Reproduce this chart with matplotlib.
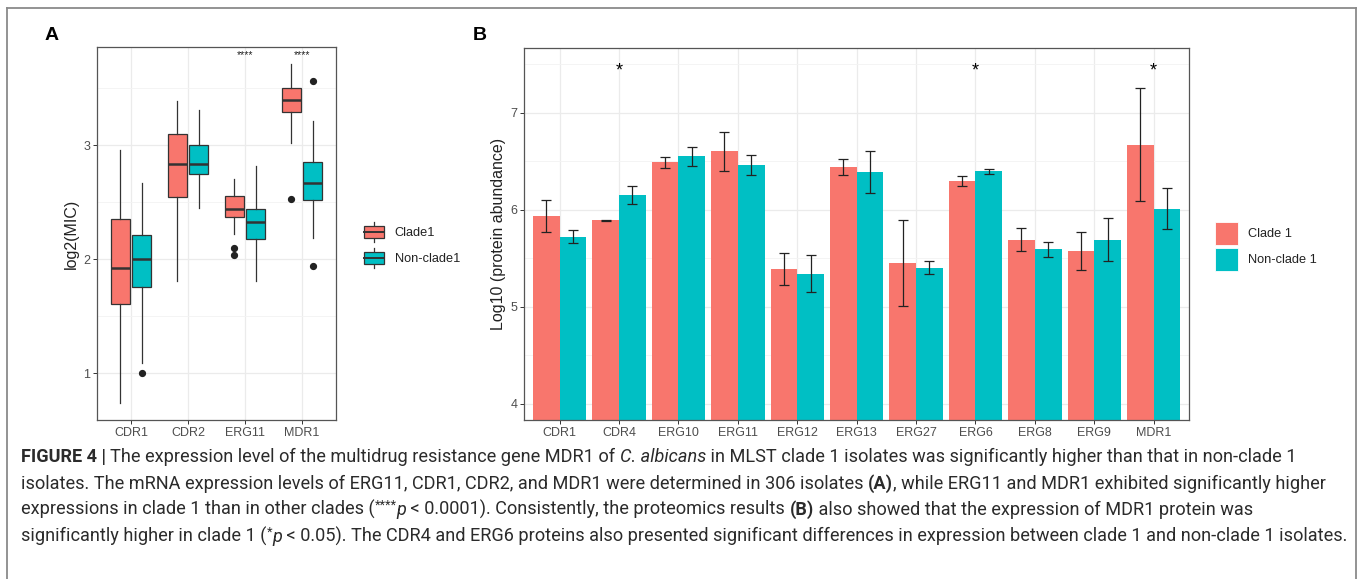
import matplotlib
matplotlib.use("Agg")
import matplotlib.pyplot as plt
from matplotlib import font_manager
from matplotlib.patches import Rectangle, Patch
from matplotlib.lines import Line2D
from matplotlib.legend_handler import HandlerBase
import numpy as np

W, H = 1360, 579
RED = "#F8766D"
CYAN = "#00BFC4"
DARK = "#333333"
TXT = "#4d4d4d"

# ---- panel A: log2(MIC) box stats
genes_a = ["CDR1", "CDR2", "ERG11", "MDR1"]
c1_lo = [0.74, 1.81, 2.22, 3.02]
c1_q1 = [1.61, 2.55, 2.37, 3.29]
c1_med = [1.92, 2.84, 2.44, 3.40]
c1_q3 = [2.35, 3.10, 2.555, 3.50]
c1_hi = [2.96, 3.39, 2.70, 3.71]
c1_out = [[], [], [2.10, 2.04], [2.53]]

nc_lo = [1.09, 2.45, 1.81, 2.19]
nc_q1 = [1.76, 2.75, 2.18, 2.52]
nc_med = [2.00, 2.84, 2.325, 2.67]
nc_q3 = [2.21, 3.00, 2.44, 2.85]
nc_hi = [2.67, 3.31, 2.82, 3.21]
nc_out = [[1.00], [], [], [3.56, 1.94]]

sig_a = ["", "", "****", "****"]

# ---- panel B: log10 protein abundance, mean +- error
genes_b = ["CDR1", "CDR4", "ERG10", "ERG11", "ERG12", "ERG13",
           "ERG27", "ERG6", "ERG8", "ERG9", "MDR1"]
b_c1 = [5.93, 5.89, 6.49, 6.60, 5.39, 6.44, 5.45, 6.30, 5.69, 5.57, 6.67]
b_c1_err = [0.165, 0.005, 0.058, 0.20, 0.165, 0.085, 0.44, 0.052, 0.117, 0.195, 0.585]
b_nc = [5.72, 6.155, 6.55, 6.46, 5.34, 6.39, 5.40, 6.395, 5.59, 5.69, 6.01]
b_nc_err = [0.068, 0.093, 0.096, 0.10, 0.193, 0.217, 0.068, 0.026, 0.074, 0.222, 0.212]
sig_b = ["", "*", "", "", "", "", "", "*", "", "", "*"]

plt.rcParams["font.family"] = ["Liberation Sans", "DejaVu Sans"]

fig = plt.figure(figsize=(W / 100, H / 100), dpi=100)


def fx(px):
    return px / W


def fy(py):
    return 1 - py / H


def style_panel(ax):
    ax.set_facecolor("white")
    for s in ax.spines.values():
        s.set_color("#555555")
        s.set_linewidth(0.9)
    ax.grid(which="major", color="#ebebeb", lw=0.9)
    ax.grid(which="minor", axis="y", color="#f3f3f3", lw=0.6)
    ax.set_axisbelow(True)
    ax.tick_params(which="major", length=2.8, width=0.7, color=DARK,
                   labelsize=9, labelcolor=TXT, pad=2)
    ax.tick_params(which="minor", length=0)


# ---------------- panel A
axA = fig.add_axes([fx(97), fy(420), fx(336) - fx(97), fy(47) - fy(420)])
style_panel(axA)
xa = np.arange(1, len(genes_a) + 1)
off, bw = 0.1875, 0.34


def stats(lo, q1, med, q3, hi, out):
    return [dict(whislo=a, q1=b, med=c, q3=d, whishi=e, fliers=f)
            for a, b, c, d, e, f in zip(lo, q1, med, q3, hi, out)]


for st, col, dx in [(stats(c1_lo, c1_q1, c1_med, c1_q3, c1_hi, c1_out), RED, -off),
                    (stats(nc_lo, nc_q1, nc_med, nc_q3, nc_hi, nc_out), CYAN, off)]:
    axA.bxp(st, positions=xa + dx, widths=bw, patch_artist=True, showcaps=False,
            boxprops=dict(facecolor=col, edgecolor=DARK, lw=0.9),
            whiskerprops=dict(color=DARK, lw=0.9),
            medianprops=dict(color=DARK, lw=1.8),
            flierprops=dict(marker="o", markerfacecolor="#222222",
                            markeredgecolor="#222222", markersize=4.2),
            manage_ticks=False, zorder=3)

for x, s in zip(xa, sig_a):
    if s:
        axA.text(x, 3.79, s, ha="center", va="center", fontsize=7.5, color="#222222")

axA.set_xlim(0.4, 4.6)
axA.set_ylim(0.59, 3.862)
axA.set_xticks(xa)
axA.set_xticklabels(genes_a)
axA.set_yticks([1, 2, 3])
axA.set_yticks([1.5, 2.5, 3.5], minor=True)
axA.set_ylabel("log2(MIC)", fontsize=11.5, color="#222222", labelpad=3)


class BoxKey(HandlerBase):
    def create_artists(self, legend, orig, xd, yd, w, h, fs, trans):
        fc = orig.get_facecolor()
        x0, y0 = -xd, -yd
        box = Rectangle((x0, y0 + 0.22 * h), w, 0.56 * h, facecolor=fc,
                        edgecolor=DARK, lw=0.9, transform=trans)
        med = Line2D([x0, x0 + w], [y0 + 0.5 * h] * 2, color=DARK, lw=1.4, transform=trans)
        w1 = Line2D([x0 + w / 2] * 2, [y0, y0 + 0.22 * h], color=DARK, lw=0.9, transform=trans)
        w2 = Line2D([x0 + w / 2] * 2, [y0 + 0.78 * h, y0 + h], color=DARK, lw=0.9, transform=trans)
        return [w1, w2, box, med]


hA = [Patch(facecolor=RED), Patch(facecolor=CYAN)]
fig.legend(hA, ["Clade1", "Non-clade1"], handler_map={Patch: BoxKey()},
           loc="upper left", bbox_to_anchor=(fx(364), fy(222)),
           bbox_transform=fig.transFigure, frameon=False, fontsize=9.2,
           handlelength=1.56, handleheight=2.03, labelspacing=0.47,
           handletextpad=0.85, borderpad=0, borderaxespad=0, labelcolor="#222222")

# ---------------- panel B
axB = fig.add_axes([fx(524), fy(420), fx(1189.3) - fx(524), fy(47.7) - fy(420)])
style_panel(axB)
xb = np.arange(1, len(genes_b) + 1)
bwb = 0.45
axB.bar(xb - bwb / 2, b_c1, width=bwb, color=RED, zorder=2)
axB.bar(xb + bwb / 2, b_nc, width=bwb, color=CYAN, zorder=2)
axB.errorbar(xb - bwb / 2, b_c1, yerr=b_c1_err, fmt="none", ecolor="#222222",
             elinewidth=0.9, capsize=3.8, capthick=0.9, zorder=3)
axB.errorbar(xb + bwb / 2, b_nc, yerr=b_nc_err, fmt="none", ecolor="#222222",
             elinewidth=0.9, capsize=3.8, capthick=0.9, zorder=3)
for x, s in zip(xb, sig_b):
    if s:
        axB.text(x, 7.43, s, ha="center", va="center", fontsize=13, color="black")

axB.set_xlim(0.4, len(genes_b) + 0.6)
axB.set_ylim(3.832, 7.67)
axB.set_xticks(xb)
axB.set_xticklabels(genes_b)
axB.set_yticks([4, 5, 6, 7])
axB.set_yticks([4.5, 5.5, 6.5, 7.5], minor=True)
axB.set_ylabel("Log10 (protein abundance)", fontsize=11.5, color="#222222", labelpad=3)

hB = [Patch(facecolor=RED, edgecolor="white", lw=0.6),
      Patch(facecolor=CYAN, edgecolor="white", lw=0.6)]
fig.legend(hB, ["Clade 1", "Non-clade 1"], loc="upper left",
           bbox_to_anchor=(fx(1215), fy(221.7)), bbox_transform=fig.transFigure,
           frameon=False, fontsize=9.2, handlelength=1.8, handleheight=2.48,
           labelspacing=0.18, handletextpad=0.75, borderpad=0, borderaxespad=0,
           labelcolor="#222222")

# panel letters
fig.text(fx(52), fy(35), "A", fontsize=14, fontweight="bold", ha="center", va="center")
fig.text(fx(480), fy(35.7), "B", fontsize=14, fontweight="bold", ha="center", va="center")

# frame round the whole figure
for xs, ys in [([7, 7], [579, 8]), ([7, 1356], [8, 8]), ([1356, 1356], [8, 579])]:
    fig.add_artist(Line2D([fx(v) for v in xs], [fy(v) for v in ys], color="#8a8a8a",
                          lw=1.3, transform=fig.transFigure))

# ---------------- caption, drawn run by run
N, B_, I_, S_ = "n", "b", "i", "s"
caption = [
    [("FIGURE 4 | ", B_), ("The expression level of the multidrug resistance gene MDR1 of ", N),
     ("C. albicans", I_), (" in MLST clade 1 isolates was significantly higher than that in non-clade 1", N)],
    [("isolates. The mRNA expression levels of ERG11, CDR1, CDR2, and MDR1 were determined in 306 isolates ", N),
     ("(A)", B_), (", while ERG11 and MDR1 exhibited significantly higher", N)],
    [("expressions in clade 1 than in other clades (", N), ("****", S_), ("p", I_),
     (" < 0.0001). Consistently, the proteomics results ", N), ("(B)", B_),
     (" also showed that the expression of MDR1 protein was", N)],
    [("significantly higher in clade 1 (", N), ("*", S_), ("p", I_),
     (" < 0.05). The CDR4 and ERG6 proteins also presented significant differences in expression between clade 1 and non-clade 1 isolates.", N)],
]

try:
    font_manager.findfont(font_manager.FontProperties(family="Liberation Sans Narrow"),
                          fallback_to_default=False)
    cap_fam = ["Liberation Sans Narrow", "DejaVu Sans"]
except ValueError:
    cap_fam = ["Roboto", "DejaVu Sans"]
cap_col = "#2b2b2b"
r = fig.canvas.get_renderer()


def props(kind, fs):
    d = dict(family=cap_fam, color=cap_col, fontsize=fs)
    if kind == B_:
        d["fontweight"] = "bold"
    elif kind == I_:
        d["fontstyle"] = "italic"
    elif kind == S_:
        d["fontsize"] = fs * 0.7
    return d


def width(s, kind, fs):
    t = fig.text(0, 0, s + "|", **props(kind, fs))
    w1 = t.get_window_extent(r).width
    t.set_text("|")
    w2 = t.get_window_extent(r).width
    t.remove()
    return w1 - w2


base = 10.0
wline = sum(width(s, k, base) for s, k in caption[3])
cap_fs = base * (1347 - 21) / wline

baselines = [462, 489, 515, 542]
for line, yb in zip(caption, baselines):
    x = 21.0
    for s, k in line:
        dy = cap_fs * 0.45 if k == S_ else 0
        fig.text(fx(x), fy(yb - dy), s, va="baseline", ha="left", **props(k, cap_fs))
        x += width(s, k, cap_fs)

fig.savefig("out.png", dpi=100, facecolor="white")
